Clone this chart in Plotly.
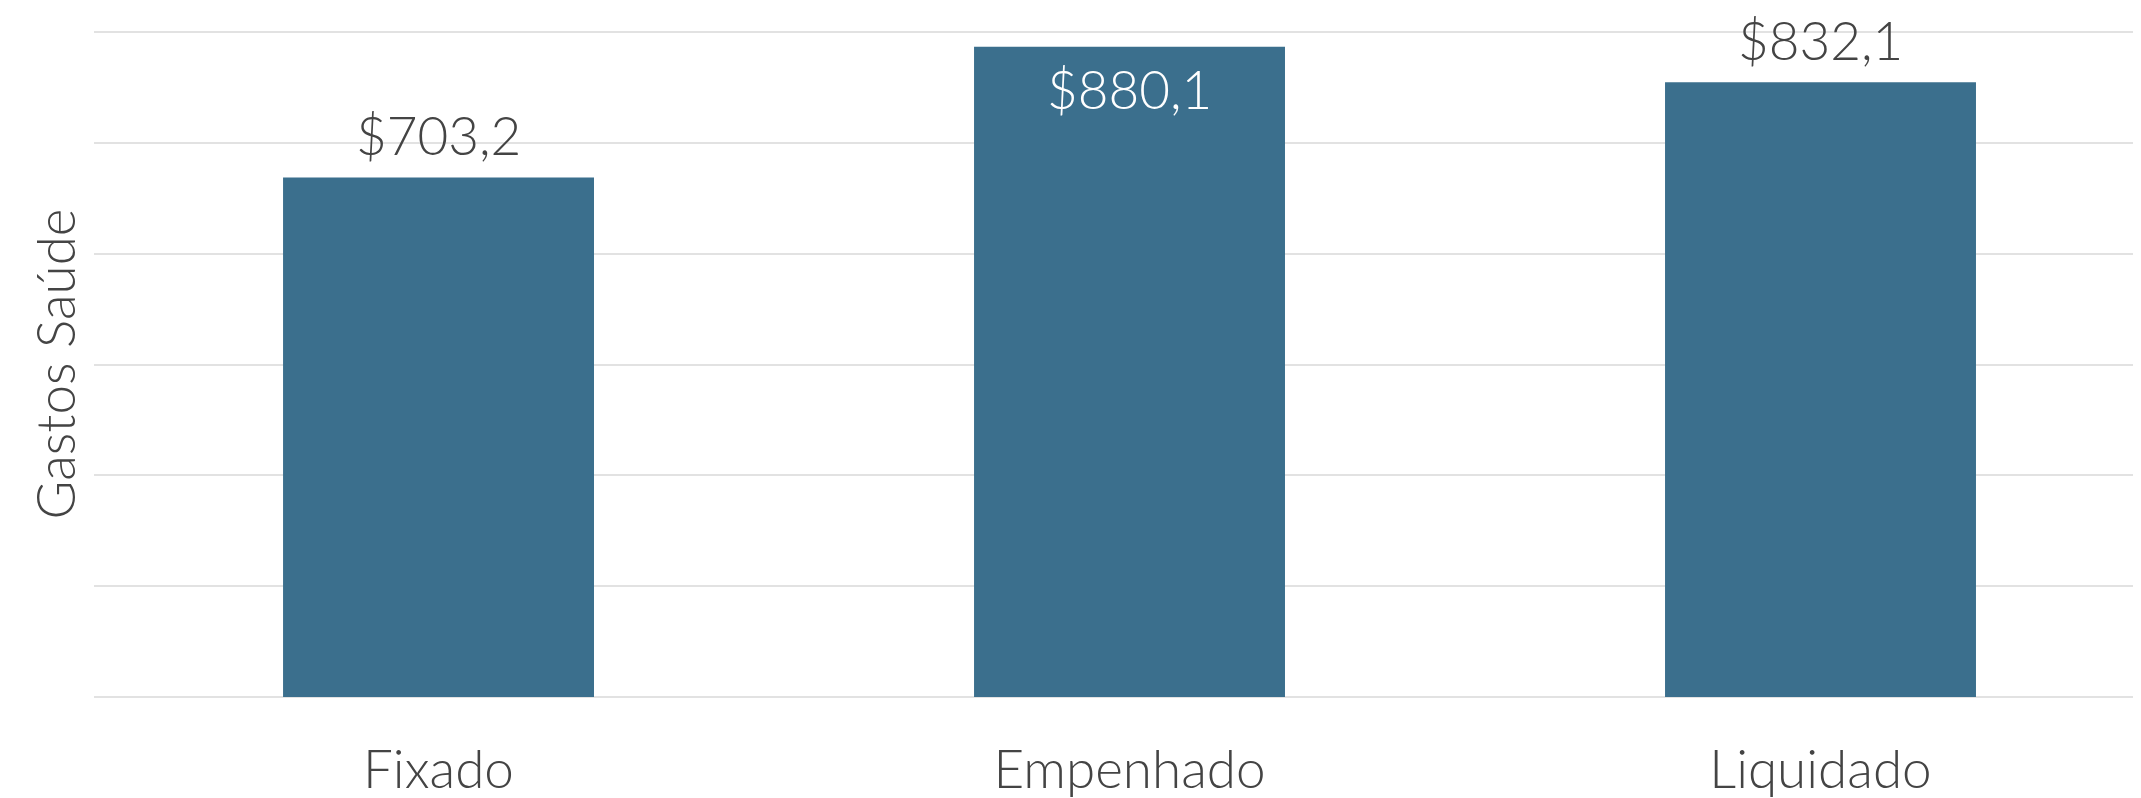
import plotly.graph_objects as go

categories = ["Fixado", "Empenhado", "Liquidado"]
values = [703.2, 880.1, 832.1]
labels = ["$703,2", "$880,1", "$832,1"]

BAR = "#3b6f8d"
TXT = "#444444"
GRID = "#e2e2e2"
FONT = "Lato"
FS = 53

fig = go.Figure(
    go.Bar(
        x=categories,
        y=values,
        marker=dict(color=BAR, line=dict(width=0)),
        cliponaxis=False,
        hoverinfo="skip",
    )
)

# value labels: tallest bar gets its label inside (white), others above the bar
vmax = max(values)
for cat, v, lab in zip(categories, values, labels):
    inside = v == vmax
    fig.add_annotation(
        x=cat,
        y=v,
        xref="x",
        yref="y",
        text=lab,
        showarrow=False,
        yanchor="middle",
        yshift=-42 if inside else 43,
        font=dict(family=FONT, size=FS, weight=300, color="white" if inside else TXT),
    )

fig.update_layout(
    width=2141,
    height=798,
    margin=dict(l=86, r=0, t=23, b=109, autoexpand=False),
    paper_bgcolor="white",
    plot_bgcolor="white",
    bargap=0.55,
    showlegend=False,
    font=dict(family=FONT, color=TXT),
    xaxis=dict(
        range=[-0.4986, 2.4754],
        showgrid=False,
        zeroline=False,
        showline=False,
        ticks="",
        automargin=False,
        tickfont=dict(family=FONT, size=FS, color=TXT, weight=300),
        ticklabelstandoff=37,
    ),
    yaxis=dict(
        range=[0, 901.5],
        dtick=150,
        showticklabels=False,
        showgrid=True,
        gridcolor=GRID,
        gridwidth=2,
        zeroline=True,
        zerolinecolor=GRID,
        zerolinewidth=2,
        showline=False,
        ticks="",
        automargin=False,
        title=dict(text="Gastos Saúde", font=dict(family=FONT, size=FS, color=TXT, weight=300), standoff=0),
    ),
)

fig.write_html("out.html")
